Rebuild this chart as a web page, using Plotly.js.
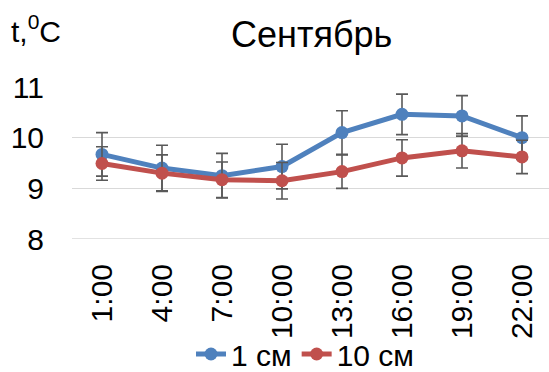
<!DOCTYPE html>
<html><head><meta charset="utf-8">
<script src="https://cdn.plot.ly/plotly-3.0.1.min.js"></script>
<style>html,body{margin:0;padding:0;background:#fff}#chart{width:549px;height:372px}</style>
</head><body><div id="chart"></div>
<script>
const categories = ["1:00","4:00","7:00","10:00","13:00","16:00","19:00","22:00"];
const series1Name = "1 см";
const series1 = [9.67, 9.40, 9.25, 9.43, 10.10, 10.46, 10.43, 10.00];
const series1Err = [0.43, 0.45, 0.44, 0.44, 0.43, 0.40, 0.40, 0.43];
const series2Name = "10 см";
const series2 = [9.49, 9.30, 9.17, 9.15, 9.33, 9.60, 9.74, 9.62];
const series2Err = [0.33, 0.36, 0.35, 0.36, 0.33, 0.36, 0.34, 0.33];
const yTicks = [8, 9, 10, 11];

const font = "Liberation Sans, Arial, sans-serif";
const L = 72, T = 87, B = 133, W = 549, H = 372;
const PW = W - L, PH = H - T - B;
function px2x(px){ return (px - L) / PW; }
function px2y(py){ return 1 + (T - py) / PH; }
function trace(name, y, err, color){
  return {
    type: "scatter", mode: "lines+markers", name: name,
    x: categories, y: y,
    line: {color: color, width: 5},
    marker: {color: color, size: 13},
    error_y: {type: "data", array: err, visible: true, color: "#595959", thickness: 1.6, width: 6}
  };
}
const data = [trace(series1Name, series1, series1Err, "#4F81BD"), trace(series2Name, series2, series2Err, "#C0504D")];
const layout = {
  width: W, height: H,
  margin: {l: L, r: 0, t: T, b: B, autoexpand: false},
  paper_bgcolor: "#fff", plot_bgcolor: "#fff",
  font: {family: font, color: "#000", size: 30},
  showlegend: true,
  legend: {orientation: "h", x: px2x(305), xanchor: "center", y: px2y(354), yanchor: "middle",
           font: {size: 30, family: font}, tracegroupgap: 0, bgcolor: "rgba(0,0,0,0)"},
  xaxis: {type: "category", tickangle: -90, showgrid: false, zeroline: false, automargin: false,
          showline: false, ticks: "", tickfont: {size: 30, family: font}, ticklabelstandoff: 18,
          range: [-0.5, 7.45]},
  yaxis: {range: [8, 11], tickvals: yTicks, ticktext: yTicks.map(String), showgrid: true, automargin: false,
          gridcolor: "#d9d9d9", gridwidth: 1.3, zeroline: false, showline: false, ticks: "",
          tickfont: {size: 30, family: font}, ticklabelstandoff: 27},
  shapes: [
    {type: "line", xref: "paper", yref: "y", x0: 0, x1: 1, y0: 8, y1: 8, line: {color: "#d9d9d9", width: 1.3}, layer: "below"}
  ],
  annotations: [
    {text: "Сентябрь", xref: "paper", yref: "paper", x: px2x(311), y: px2y(34),
     xanchor: "center", yanchor: "middle", showarrow: false, font: {size: 36, family: font}},
    {text: "t,<sup>0</sup>C", xref: "paper", yref: "paper", x: px2x(9), y: px2y(29),
     xanchor: "left", yanchor: "middle", showarrow: false, font: {size: 30, family: font}}
  ]
};
Plotly.newPlot("chart", data, layout, {displayModeBar: false, staticPlot: true});
</script></body></html>
